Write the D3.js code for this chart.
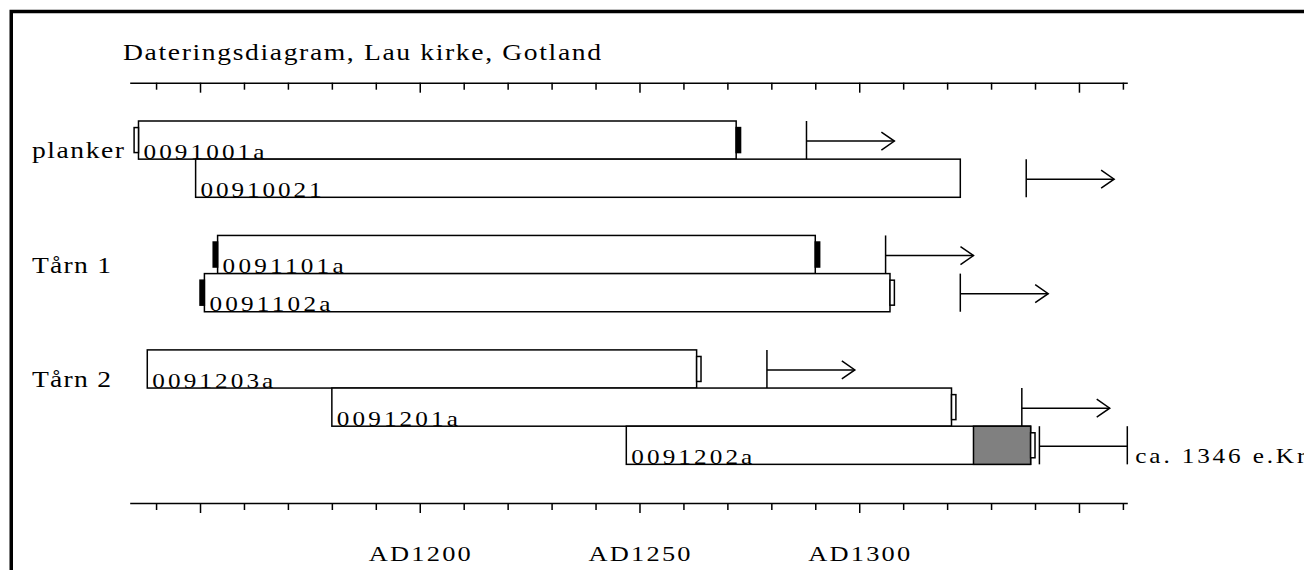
<!DOCTYPE html>
<html>
<head>
<meta charset="utf-8">
<script src="https://cdn.jsdelivr.net/npm/d3@7"></script>
<style>
  body { margin: 0; background: #fff; }
  svg { display: block; font-family: "Liberation Serif", "Times New Roman", serif; }
</style>
</head>
<body>
<svg id="chart" width="1304" height="570"></svg>
<script>
// data
const title = "Dateringsdiagram, Lau kirke, Gotland";
const groupNames = ["planker", "Tårn 1", "Tårn 2"];
const groupSlots = [0, 3, 6];
const sampleNames = ["0091001a", "00910021", "0091101a", "0091102a", "0091203a", "0091201a", "0091202a"];
const sampleSlots = [0, 1, 3, 4, 6, 7, 8];
const startYears = [1136, 1149, 1154, 1151, 1138, 1180, 1247];
const endYears = [1272, 1323, 1290, 1307, 1263, 1321, 1339];
const sapwoodStart = [null, null, null, null, null, null, 1326];
const startMarks = ["open", null, "filled", "filled", null, null, null];
const endMarks = ["filled", null, "filled", "open", "open", "open", "open"];
const fellingYears = [1288, 1338, 1306, 1323, 1279, 1337, 1341];
const fellingOpen = [true, true, true, true, true, true, false];
const fellingNote = "ca. 1346 e.Kr";
const tickYears = d3.range(1140, 1361, 10);
const majorYears = [1150, 1200, 1250, 1300, 1350];
const labelYears = [1200, 1250, 1300];

const svg = d3.select("#chart");

let x = d3.scaleLinear()
    .domain([1134, 1361])
    .range([129.7, 1127.3]);

let y = d3.scaleLinear()
    .domain([0, 9])
    .range([121, 121 + 9 * 38.15]);

const rowH = y(1) - y(0);
const sx = 1.2; // the old bitmap font is wide

// text squeezed/stretched to the width it has in the picture
function wideText(px, py, width, size, str, anchor) {
  return svg.append("text")
      .attr("transform", `translate(${px},${py}) scale(${sx},1)`)
      .attr("font-size", size)
      .attr("text-anchor", anchor || "start")
      .attr("textLength", width / sx).attr("lengthAdjust", "spacing")
      .text(str);
}

// frame
svg.append("rect")
    .attr("x", 11.25).attr("y", 11.5)
    .attr("width", 1400).attr("height", 700)
    .attr("fill", "none").attr("stroke", "#000").attr("stroke-width", 3.5);

wideText(123, 60, 478, 23, title);

// the two axes
function drawAxis(yPos) {
  let g = svg.append("g")
      .attr("transform", `translate(0,${yPos})`)
      .call(d3.axisBottom(x).tickValues(tickYears).tickSize(7).tickSizeOuter(0).tickFormat(""));
  g.select(".domain").attr("stroke-width", 1.5);
  g.selectAll(".tick line")
      .attr("stroke-width", 1.5)
      .attr("y2", d => majorYears.includes(d) ? 10 : 7);
  return g;
}
drawAxis(82.7);
drawAxis(503);

labelYears.forEach(d => wideText(x(d), 561, 102, 22, "AD" + d, "middle"));

// group names
groupNames.forEach((d, i) => {
  wideText(32, y(groupSlots[i]) + rowH - 1, d == "planker" ? 92 : 79, 23, d);
});

const rows = sampleNames.map((name, i) => ({
  name: name, slot: sampleSlots[i], start: startYears[i], end: endYears[i],
  sap: sapwoodStart[i], sm: startMarks[i], em: endMarks[i],
  fell: fellingYears[i], open: fellingOpen[i]
}));

rows.forEach(r => {
  let top = y(r.slot), bot = top + rowH, mid = top + rowH / 2;
  let g = svg.append("g").attr("stroke", "#000").attr("stroke-width", 1.5);

  g.append("rect")
      .attr("x", x(r.start)).attr("y", top)
      .attr("width", x(r.end) - x(r.start)).attr("height", rowH)
      .attr("fill", "#fff");

  if (r.sap != null) {
    g.append("rect")
        .attr("x", x(r.sap)).attr("y", top)
        .attr("width", x(r.end) - x(r.sap)).attr("height", rowH)
        .attr("fill", "#808080");
  }

  if (r.sm) {
    g.append("rect")
        .attr("x", x(r.start - 1)).attr("y", mid - 12.5)
        .attr("width", x(r.start) - x(r.start - 1)).attr("height", 25)
        .attr("fill", r.sm == "filled" ? "#000" : "#fff");
  }
  if (r.em) {
    g.append("rect")
        .attr("x", x(r.end)).attr("y", mid - 12.5)
        .attr("width", x(r.end + 1) - x(r.end)).attr("height", 25)
        .attr("fill", r.em == "filled" ? "#000" : "#fff");
  }

  // felling date: bar then line 20 years on
  g.append("line")
      .attr("x1", x(r.fell)).attr("x2", x(r.fell))
      .attr("y1", top).attr("y2", bot);
  g.append("line")
      .attr("x1", x(r.fell)).attr("x2", x(r.fell + 20))
      .attr("y1", mid + 1).attr("y2", mid + 1);
  if (r.open) {
    let tip = x(r.fell + 20);
    g.append("polyline")
        .attr("points", `${tip - 13},${mid - 8} ${tip},${mid + 1} ${tip - 13},${mid + 10}`)
        .attr("fill", "none");
  } else {
    g.append("line")
        .attr("x1", x(r.fell + 20)).attr("x2", x(r.fell + 20))
        .attr("y1", top).attr("y2", bot);
    wideText(x(r.fell + 20) + 8, bot - 1, 170, 21, fellingNote);
  }

  wideText(x(r.start) + 5, bot - 0.5, 121, 21, r.name);
});
</script>
</body>
</html>
